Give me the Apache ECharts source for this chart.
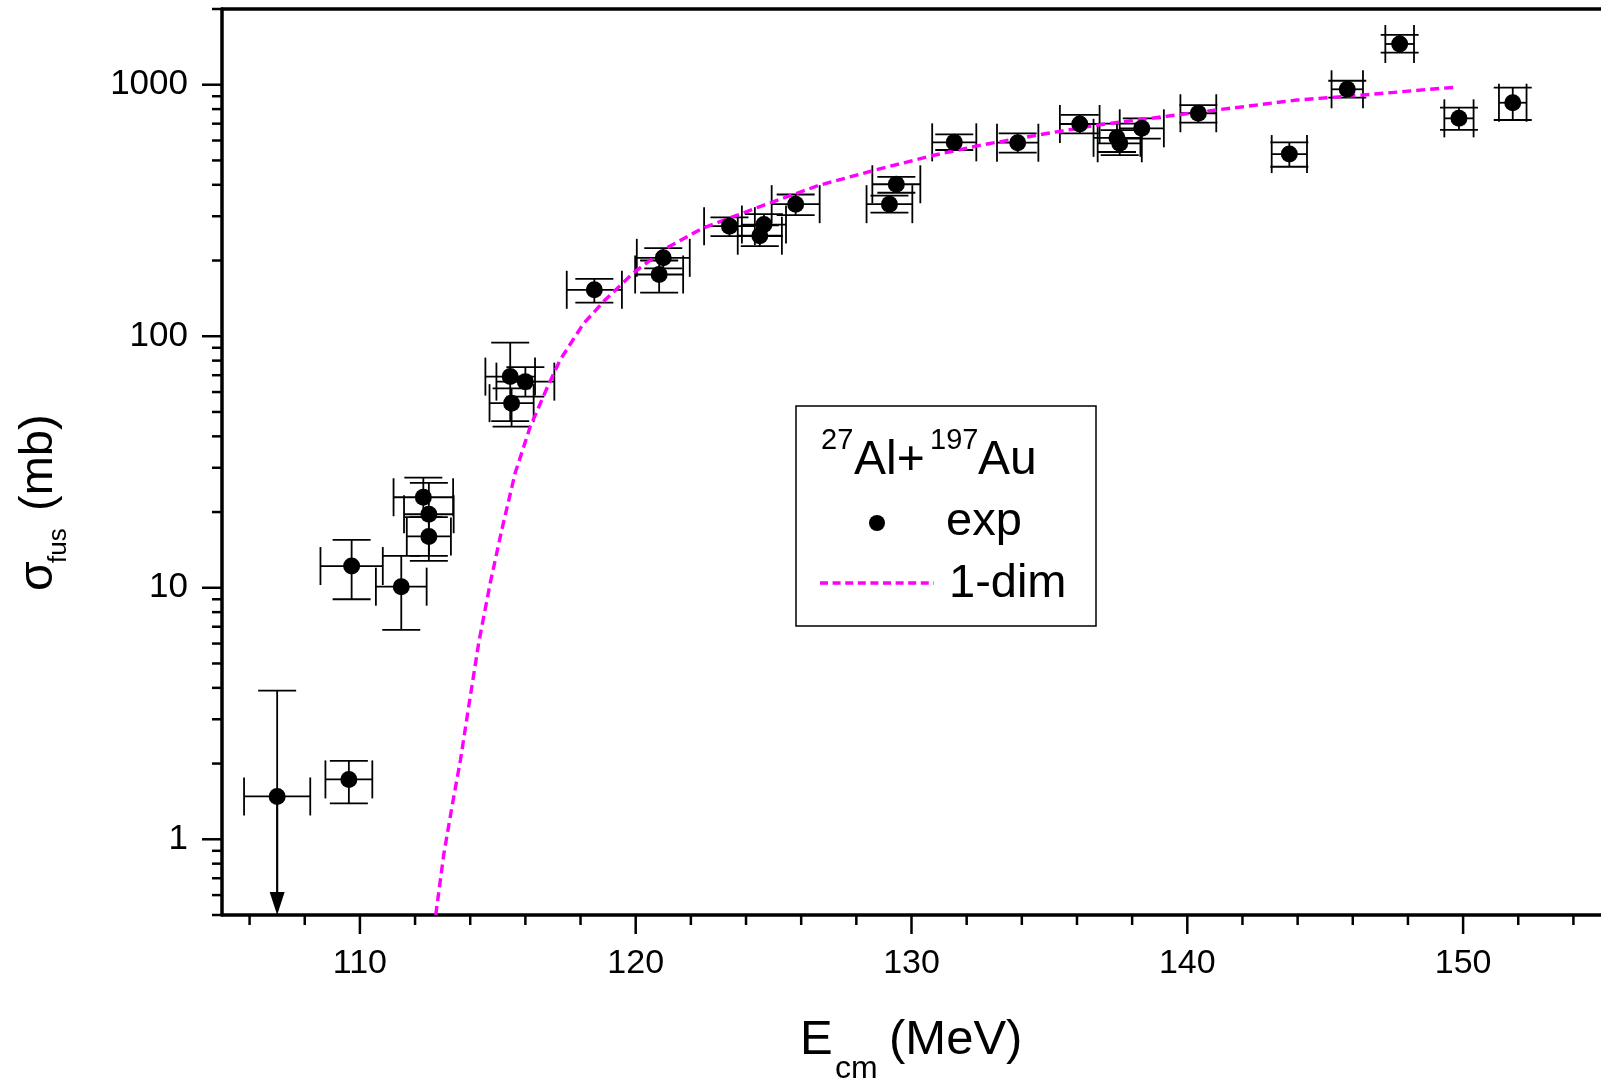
<!DOCTYPE html>
<html>
<head>
<meta charset="utf-8">
<script src="https://cdn.jsdelivr.net/npm/echarts@6.0.0/dist/echarts.min.js"></script>
<style>
  html, body { margin: 0; padding: 0; background: #fff; }
  #main { width: 1601px; height: 1081px; }
</style>
</head>
<body>
<div id="main"></div>
<script>
var chart = echarts.init(document.getElementById('main'));

var FONT = "'Liberation Sans', Arial, sans-serif";

// axis ranges
var xMin = 105, xMax = 155;
var yMin = 0.5, yMax = 2000;

// tick positions (drawn by hand so the log axis gets 2..9 minor ticks)
var xMajorTicks = [110, 120, 130, 140, 150];
var xMinorTicks = [106, 108, 112, 114, 116, 118, 122, 124, 126, 128, 132, 134, 136, 138, 142, 144, 146, 148, 152, 154];
var yMajorTicks = [1, 10, 100, 1000];
var yMinorTicks = [0.5, 0.6, 0.7, 0.8, 0.9, 2, 3, 4, 5, 6, 7, 8, 9, 20, 30, 40, 50, 60, 70, 80, 90,
                   200, 300, 400, 500, 600, 700, 800, 900, 2000];

// experimental points: E_cm (MeV), sigma_fus (mb), error on E, lower / upper sigma
var energy    = [107.0, 109.6, 109.7, 111.5, 112.3, 112.5, 112.5, 115.45, 116.0, 115.5, 118.5, 121.0, 120.85,
                 123.4, 124.65, 124.5, 125.8, 129.45, 129.2, 131.55, 133.85, 136.1, 137.45, 137.55, 138.35,
                 140.4, 143.7, 145.8, 147.7, 149.85, 151.8];
var sigma     = [1.48, 1.73, 12.2, 10.1, 22.9, 19.6, 16.0, 69.1, 66.0, 54.2, 153, 205, 176,
                 274, 278, 251, 335, 402, 335, 590, 588, 698, 615, 585, 671,
                 770, 530, 959, 1452, 735, 848];
var energyErr = [1.2, 0.85, 1.13, 0.92, 1.08, 0.9, 0.8, 0.9, 1.05, 0.8, 1.0, 0.96, 0.87,
                 0.92, 0.8, 0.8, 0.87, 0.87, 0.83, 0.8, 0.75, 0.72, 0.85, 0.8, 0.8,
                 0.65, 0.64, 0.57, 0.52, 0.53, 0.5];
var sigmaLow  = [null, 1.39, 9.0, 6.8, 19.1, 13.4, 12.8, 46, 57.5, 43.7, 136, 186, 149,
                 250, 250, 228, 303, 372, 310, 550, 537, 641, 540, 525, 610,
                 707, 472, 888, 1341, 661, 724];
var sigmaHigh = [3.9, 2.05, 15.5, 13.4, 27.4, 26.1, 19.1, 94.4, 75.4, 62, 169, 224, 200,
                 297, 306, 276, 366, 430, 362, 635, 641, 759, 700, 660, 735,
                 830, 590, 1037, 1578, 811, 973];

// upper limit point (arrow down to the axis)
var limitEnergy = [107.0];
var limitFrom = [1.48];
var limitTo = [0.5];

// 1-dim calculation
var curveE     = [112.75, 113.04, 113.35, 113.65, 113.95, 114.31, 114.73, 115.15, 115.63, 116.17, 116.78,
                  117.26, 118.10, 118.88, 119.90, 121.11, 122.40, 124.48, 126.64, 128.69, 130.73,
                  132.54, 134.95, 136.9, 139.16, 141.56, 143.97, 146.38, 148.78, 149.75];
var curveSigma = [0.5, 0.87, 1.37, 2.08, 3.4, 6.06, 10.5, 17.1, 28.6, 43.5, 62.1,
                  80.5, 112, 139, 178, 224, 268, 327, 398, 458, 522,
                  576, 641, 695, 747, 806, 869, 910, 959, 977];

function seg(x1, y1, x2, y2, w) {
  return { type: 'line', shape: { x1: x1, y1: y1, x2: x2, y2: y2 }, style: { stroke: '#000', lineWidth: w } };
}

function tickSeries(values, onX, len) {
  return {
    type: 'custom',
    silent: true,
    z: 10,
    data: values.map(function (v) { return onX ? [v, yMin] : [xMin, v]; }),
    renderItem: function (params, api) {
      var p = api.coord([api.value(0), api.value(1)]);
      if (onX) return seg(p[0], p[1], p[0], p[1] + len, 2.5);
      return seg(p[0] - len, p[1], p[0], p[1], 2.5);
    }
  };
}

function renderErr(params, api) {
  var e = api.value(0), s = api.value(1), de = api.value(2), lo = api.value(3), hi = api.value(4);
  var c = api.coord([e, s]);
  var xl = api.coord([e - de, s])[0];
  var xr = api.coord([e + de, s])[0];
  var yt = api.coord([e, hi])[1];
  var cap = 19, w = 1.8;
  var kids = [
    seg(xl, c[1], xr, c[1], w),
    seg(xl, c[1] - cap, xl, c[1] + cap, w),
    seg(xr, c[1] - cap, xr, c[1] + cap, w),
    seg(c[0], yt, c[0], c[1], w),
    seg(c[0] - cap, yt, c[0] + cap, yt, w)
  ];
  if (lo > 0) {
    var yb = api.coord([e, lo])[1];
    kids.push(seg(c[0], c[1], c[0], yb, w));
    kids.push(seg(c[0] - cap, yb, c[0] + cap, yb, w));
  }
  return { type: 'group', children: kids };
}

function renderArrow(params, api) {
  var a = api.coord([api.value(0), api.value(1)]);
  var b = api.coord([api.value(0), api.value(2)]);
  var head = 23, half = 7.5;
  return {
    type: 'group',
    children: [
      seg(a[0], a[1], b[0], b[1] - head, 2.2),
      { type: 'polygon', shape: { points: [[b[0], b[1]], [b[0] - half, b[1] - head], [b[0] + half, b[1] - head]] },
        style: { fill: '#000' } }
    ]
  };
}

function txt(x, y, s, size) {
  return { type: 'text', x: x, y: y, z: 101,
           style: { text: s, fontSize: size, fontFamily: FONT, fill: '#000', align: 'left', verticalAlign: 'middle' } };
}

var option = {
  animation: false,
  backgroundColor: '#fff',
  textStyle: { fontFamily: FONT },
  grid: { left: 222, top: 9, width: 1380, height: 906 },
  xAxis: [
    {
      type: 'value',
      min: xMin,
      max: xMax,
      splitNumber: 5,
      position: 'bottom',
      axisLine: { show: true, lineStyle: { color: '#000', width: 3.5 } },
      axisTick: { show: false },
      splitLine: { show: false },
      axisLabel: { color: '#000', fontSize: 34, margin: 32, fontFamily: FONT,
                   showMinLabel: false, showMaxLabel: false }
    },
    {
      type: 'value',
      min: xMin,
      max: xMax,
      position: 'top',
      axisLine: { show: true, lineStyle: { color: '#000', width: 3.5 } },
      axisTick: { show: false },
      axisLabel: { show: false },
      splitLine: { show: false }
    }
  ],
  yAxis: {
    type: 'log',
    logBase: 10,
    min: yMin,
    max: yMax,
    axisLine: { show: true, lineStyle: { color: '#000', width: 3.5 } },
    axisTick: { show: false },
    splitLine: { show: false },
    axisLabel: {
      color: '#000', fontSize: 35, margin: 34, fontFamily: FONT,
      showMinLabel: false, showMaxLabel: false,
      formatter: function (v) {
        var l = Math.log10(v);
        return Math.abs(l - Math.round(l)) < 1e-6 ? String(Math.round(v)) : '';
      }
    }
  },
  series: [
    tickSeries(xMajorTicks, true, 19),
    tickSeries(xMinorTicks, true, 10),
    tickSeries(yMajorTicks, false, 20),
    tickSeries(yMinorTicks, false, 10),
    {
      name: 'err',
      type: 'custom',
      silent: true,
      z: 2,
      data: energy.map(function (e, i) {
        return [e, sigma[i], energyErr[i], sigmaLow[i] || 0, sigmaHigh[i]];
      }),
      renderItem: renderErr
    },
    {
      name: 'limit',
      type: 'custom',
      silent: true,
      z: 2,
      data: limitEnergy.map(function (e, i) { return [e, limitFrom[i], limitTo[i]]; }),
      renderItem: renderArrow
    },
    {
      name: '1-dim',
      type: 'line',
      z: 3,
      showSymbol: false,
      smooth: false,
      data: curveE.map(function (e, i) { return [e, curveSigma[i]]; }),
      lineStyle: { color: '#ff00ff', width: 3.4, type: [9, 5] }
    },
    {
      name: 'exp',
      type: 'scatter',
      z: 4,
      symbol: 'circle',
      symbolSize: 17,
      itemStyle: { color: '#000', opacity: 1 },
      data: energy.map(function (e, i) { return [e, sigma[i]]; })
    }
  ],
  graphic: [
    // y axis title
    {
      type: 'group', x: 56, y: 591, rotation: Math.PI / 2, z: 100,
      children: [
        txt(0, -17, 'σ', 48),
        txt(28, 3, 'fus', 26),
        txt(80, -17, '(mb)', 47)
      ]
    },
    // x axis title
    txt(800, 1040, 'E', 49),
    txt(835, 1069, 'cm', 32),
    txt(889, 1040, '(MeV)', 49),
    // legend box
    { type: 'rect', z: 100, shape: { x: 796, y: 406, width: 300, height: 220 }, style: { fill: '#fff', stroke: '#000', lineWidth: 1.5 } },
    txt(821, 441, '27', 29),
    txt(854, 461, 'Al+', 48),
    txt(930, 441, '197', 29),
    txt(978, 461, 'Au', 48),
    { type: 'circle', z: 101, shape: { cx: 877, cy: 523, r: 8 }, style: { fill: '#000' } },
    txt(946, 522, 'exp', 47),
    { type: 'line', z: 101, shape: { x1: 820, y1: 583, x2: 934, y2: 583 }, style: { stroke: '#ff00ff', lineWidth: 3.4, lineDash: [8, 4.6] } },
    txt(949, 584, '1-dim', 47)
  ]
};

chart.setOption(option);
</script>
</body>
</html>
